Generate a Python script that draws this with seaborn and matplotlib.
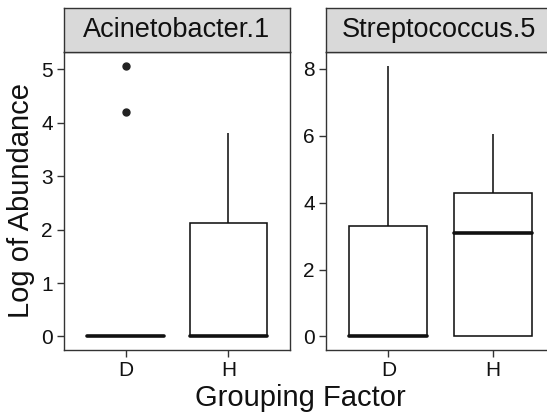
import numpy as np
import pandas as pd
import matplotlib
matplotlib.use("Agg")
import matplotlib.pyplot as plt
import seaborn as sns

sns.set_theme(style="white")
plt.rcParams['font.family'] = ['Liberation Sans', 'DejaVu Sans']

# Data (hand-read values reproducing the box statistics)
groups = ["D", "H"]
acin_D = [0, 0, 0, 0, 0, 0, 0, 0, 0, 0, 4.2, 5.07]
acin_H = [0, 0, 0, 0, 0, 1.1, 2.13, 3.1, 3.8]
strep_D = [0, 0, 0, 0, 0, 1.5, 3.3, 5.2, 8.1]
strep_H = [0, 0, 0, 1.8, 3.1, 3.9, 4.3, 5.2, 6.05]
panel_titles = ["Acinetobacter.1", "Streptococcus.5"]
left_ticks = [0, 1, 2, 3, 4, 5]
right_ticks = [0, 2, 4, 6, 8]

def make_df(d, h):
    return pd.DataFrame({"group": ["D"] * len(d) + ["H"] * len(h),
                         "value": list(d) + list(h)})

dfs = [make_df(acin_D, acin_H), make_df(strep_D, strep_H)]
ticks = [left_ticks, right_ticks]

W, H = 547, 413
fig = plt.figure(figsize=(W / 100, H / 100), dpi=100)

line_col = "#111111"
axis_col = "#333333"
panels = [(64, 226), (326, 229)]
top_px, bot_px, strip_top = 52, 350, 8

for i, (df, (lx, wx)) in enumerate(zip(dfs, panels)):
    ax = fig.add_axes([lx / W, 1 - bot_px / H, wx / W, (bot_px - top_px) / H])
    sns.boxplot(data=df, x="group", y="value", order=groups, ax=ax,
                color="white", linecolor=line_col, linewidth=1.15, width=0.75,
                showcaps=False, fliersize=5,
                flierprops=dict(marker="o", markerfacecolor="#222222",
                                markeredgecolor="#222222"),
                medianprops=dict(linewidth=2.6, color=line_col,
                                 solid_capstyle="round"))
    vals = df["value"]
    rng = vals.max() - vals.min()
    ax.set_ylim(vals.min() - 0.05 * rng, vals.max() + 0.05 * rng)
    ax.set_xlim(-0.6, 1.6)
    ax.set_yticks(ticks[i])
    ax.set_xlabel("")
    ax.set_ylabel("")
    ax.tick_params(axis="both", direction="out", length=5, width=1.0,
                   color=axis_col, labelsize=15, labelcolor="#111111", pad=3,
                   bottom=True, left=True)
    for s in ax.spines.values():
        s.set_visible(True)
        s.set_color(axis_col)
        s.set_linewidth(1.0)
    # strip
    sax = fig.add_axes([lx / W, 1 - top_px / H, wx / W, (top_px - strip_top) / H])
    sax.set_facecolor("#D9D9D9")
    sax.set_xticks([])
    sax.set_yticks([])
    for s in sax.spines.values():
        s.set_visible(True)
        s.set_color(axis_col)
        s.set_linewidth(1.0)
    sax.text(0.5 * 226 / wx, 0.5, panel_titles[i], ha="center", va="center",
             fontsize=19.5, color="#111111", transform=sax.transAxes)

fig.text(300 / W, 1 - 398 / H, "Grouping Factor", ha="center", va="center",
         fontsize=21, color="#111111")
fig.text(21 / W, 1 - 201 / H, "Log of Abundance", ha="center", va="center",
         rotation=90, fontsize=21, color="#111111")

fig.savefig("out.png", dpi=100, facecolor="white")
